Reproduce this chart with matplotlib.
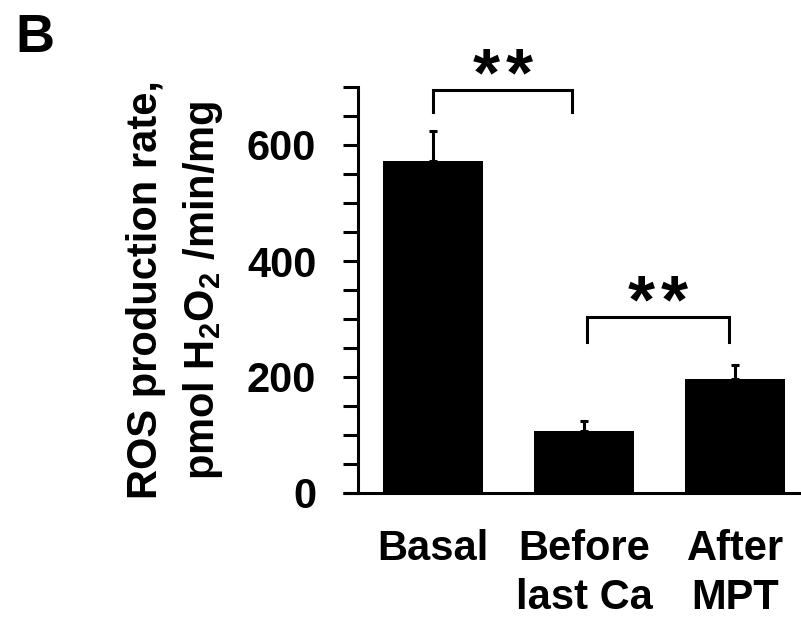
import numpy as np
import matplotlib
matplotlib.use("Agg")
import matplotlib.pyplot as plt
from matplotlib.lines import Line2D

# Data
labels = ["Basal", "Before\nlast Ca", "After\nMPT"]
ros_rate = [573, 107, 197]
ros_err = [52, 17, 23]

# bracket pairs (left x, right x, bracket top, leg bottom)
brackets = [(0.0, 0.92, 695, 657), (1.02, 1.96, 303, 261)]

plt.rcParams['font.family'] = ['Liberation Sans', 'DejaVu Sans']
plt.rcParams['font.weight'] = 'bold'
plt.rcParams['mathtext.fontset'] = 'custom'
plt.rcParams['mathtext.rm'] = 'Liberation Sans:bold'
plt.rcParams['mathtext.it'] = 'Liberation Sans:bold'
plt.rcParams['mathtext.bf'] = 'Liberation Sans:bold'

fig = plt.figure(figsize=(8.01, 6.18), dpi=100)
ax = fig.add_axes([358/801, 1 - 493/618, 442/801, 406/618])

x = np.arange(len(labels))
ax.bar(x, ros_rate, width=0.66, color='black', zorder=2)
ax.errorbar(x, ros_rate, yerr=[np.zeros(len(x)), ros_err], fmt='none',
            ecolor='black', elinewidth=2.2, capsize=3, capthick=2.2, zorder=3)

ax.set_xlim(-0.497, 2.43)
ax.set_ylim(0, 700)
ax.set_yticks([0, 200, 400, 600])
ax.set_yticks(np.arange(0, 701, 50), minor=True)

for s in ['top', 'right']:
    ax.spines[s].set_visible(False)
for s in ['left', 'bottom']:
    ax.spines[s].set_linewidth(2.2)

ax.tick_params(axis='y', which='both', length=11, width=2.2, direction='out')
ax.tick_params(axis='y', which='major', labelsize=30, pad=19)
ax.tick_params(axis='x', length=0, labelsize=30, pad=26)
ax.set_xticks(x)
ax.set_xticklabels(labels, fontweight='bold', linespacing=1.3)
for t in ax.get_yticklabels():
    t.set_fontweight('bold')

# extend the x axis line left past the y axis like the original
ax.add_line(Line2D([-15/442, 0], [0, 0], transform=ax.transAxes, color='black',
                   lw=2.2, clip_on=False, solid_capstyle='butt'))

ax.set_ylabel('ROS production rate,\npmol H$_2$O$_2$ /min/mg', fontsize=30,
              fontweight='bold', labelpad=16, linespacing=1.45)

# significance brackets, two asterisks above each
for (x0, x1, top, bot) in brackets:
    ax.plot([x0, x0, x1, x1], [bot, top, top, bot], color='black', lw=2.2,
            clip_on=False, solid_joinstyle='miter')
    for dx in (-12, 12):
        ax.annotate('*', xy=((x0 + x1) / 2, top), xytext=(dx, -4),
                    textcoords='offset points', ha='center', va='baseline',
                    fontsize=50, fontweight='bold', annotation_clip=False)

fig.text(15/801, 1 - 52/618, 'B', fontsize=39, fontweight='bold', va='baseline')

fig.savefig('out.png', dpi=100)
